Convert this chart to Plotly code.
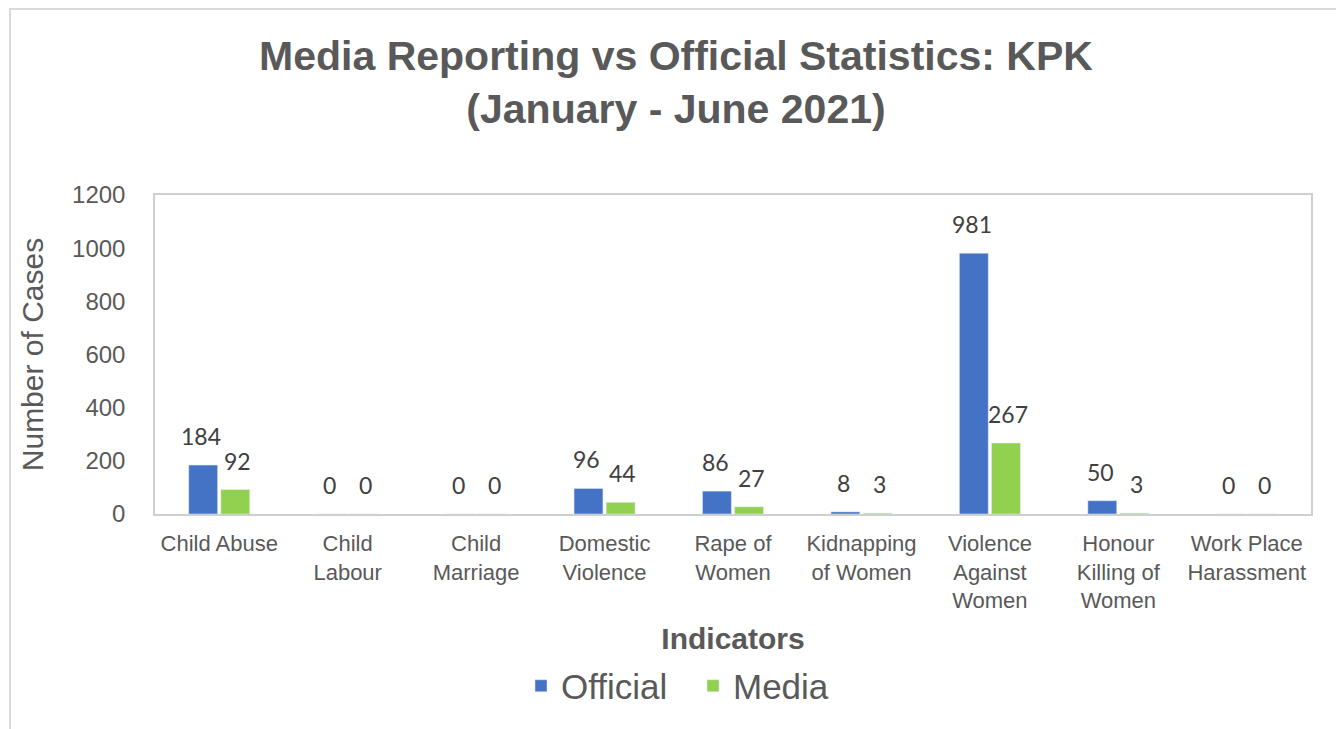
import plotly.graph_objects as go

categories = ["Child Abuse", "Child<br>Labour", "Child<br>Marriage", "Domestic<br>Violence",
              "Rape of<br>Women", "Kidnapping<br>of Women", "Violence<br>Against<br>Women",
              "Honour<br>Killing of<br>Women", "Work Place<br>Harassment"]
official = [184, 0, 0, 96, 86, 8, 981, 50, 0]
media = [92, 0, 0, 44, 27, 3, 267, 3, 0]
y_ticks = [0, 200, 400, 600, 800, 1000, 1200]

BLUE = "#4472C4"
GREEN = "#92D050"
GRAY = "#595959"
OFF = 8  # page body margin
W, H = 1344 - OFF, 729 - OFF
L, R, T, B = 155 - OFF, 33, 195 - OFF, 729 - 514
pw, ph = W - L - R, H - T - B

fig = go.Figure()
fig.add_trace(go.Bar(name="Official", x=categories, y=official, marker_color=BLUE))
fig.add_trace(go.Bar(name="Media", x=categories, y=media, marker_color=GREEN))

annotations = []
for cat, o, m in zip(categories, official, media):
    for val, dx in ((o, -18), (m, 18)):
        annotations.append(dict(x=cat, y=val, xref="x", yref="y", text=str(val),
                                showarrow=False, xshift=dx, yshift=13, yanchor="bottom",
                                font=dict(family="Lato", size=23, color="#404040")))

def px_x(p):  # screen px -> paper
    return (p - OFF - L) / pw

def px_y(p):
    return (H - B - (p - OFF)) / ph

fig.update_layout(
    width=W, height=H,
    margin=dict(l=L, r=R, t=T, b=B),
    paper_bgcolor="white", plot_bgcolor="white",
    barmode="group", bargap=0.5, bargroupgap=0.1,
    title=dict(text="Media Reporting vs Official Statistics: KPK<br>(January - June 2021)",
               x=(676 - OFF) / W, xanchor="center", y=1 - 62 / H, yanchor="top",
               yref="container", xref="container",
               font=dict(family="Liberation Sans", size=41, color=GRAY, weight="bold")),
    font=dict(family="Liberation Sans", color=GRAY),
    legend=dict(orientation="h", x=px_x(693), xanchor="center", y=px_y(686), yanchor="middle",
                font=dict(family="Liberation Sans", size=35, color=GRAY),
                entrywidth=127, traceorder="normal"),
    annotations=annotations,
    shapes=[dict(type="rect", xref="paper", yref="paper",
                 x0=px_x(10), x1=px_x(1341), y0=px_y(740), y1=px_y(9),
                 line=dict(color="#d9d9d9", width=2), fillcolor="rgba(0,0,0,0)", layer="below")],
)
fig.update_xaxes(
    showline=True, linecolor="#cfcfcf", linewidth=1.5, mirror=True,
    ticks="outside", ticklen=9, tickcolor="rgba(0,0,0,0)",
    tickfont=dict(family="Liberation Sans", size=22, color=GRAY),
    title=dict(text="Indicators", standoff=16,
               font=dict(family="Liberation Sans", size=30, color=GRAY, weight="bold")),
    showgrid=False,
)
fig.update_yaxes(
    range=[0, 1200], tickvals=y_ticks,
    showline=True, linecolor="#cfcfcf", linewidth=1.5, mirror=True,
    ticks="outside", ticklen=23, tickcolor="rgba(0,0,0,0)",
    tickfont=dict(family="Liberation Sans", size=24, color=GRAY),
    title=dict(text="Number of Cases", standoff=20,
               font=dict(family="Liberation Sans", size=30, color=GRAY)),
    showgrid=False, zeroline=False,
)
fig.write_html("out.html")
